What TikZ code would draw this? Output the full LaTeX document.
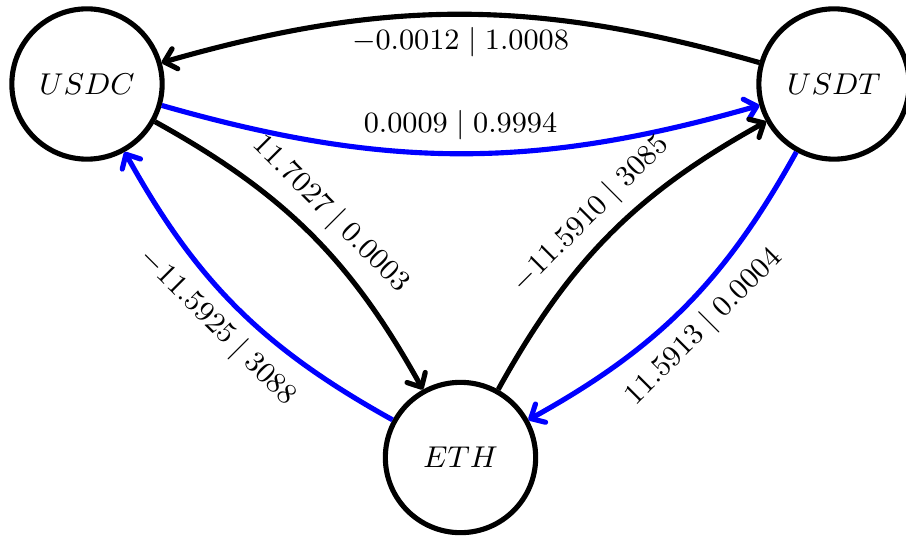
\RequirePackage{fix-cm}
\documentclass[tikz,border=0pt]{standalone}
\usepackage{amsmath,amssymb}
\usetikzlibrary{arrows.meta}
\begin{document}
\begin{tikzpicture}[token/.style={circle,draw,ultra thick,minimum size=1.65cm,font=\fontsize{9.4}{11}\selectfont},
    edge/.style={-{Straight Barb[length=3.5pt,width=6.5pt,round]},ultra thick},
    price/.style={text=black,font=\fontsize{9.2}{11}\selectfont}]
      \useasboundingbox (-0.955,-4.951) rectangle (8.99,0.922);
      \node[token] (usdc) at (0,0) {$USDC$};
      \node[token] (usdt) at (8.2,0) {$USDT$};
      \node[token] (eth) at (4.1,-4.1) {$ETH$};

      % top pair
      \draw[edge] (usdt) to[bend right=16] node[price,below] {$-0.0012 \mid 1.0008$} (usdc);
      \draw[edge,blue] (usdc) to[bend right=16] node[price,above] {$0.0009 \mid 0.9994$} (usdt);
      % left pair
      \draw[edge] (usdc) to[bend left=16] node[price,sloped,above] {$11.7027 \mid 0.0003$} (eth);
      \draw[edge,blue] (eth) to[bend left=16] node[price,sloped,below] {$-11.5925 \mid 3088$} (usdc);
      % right pair
      \draw[edge] (eth) to[bend left=16] node[price,sloped,above] {$-11.5910 \mid 3085$} (usdt);
      \draw[edge,blue] (usdt) to[bend left=16] node[price,sloped,below] {$11.5913 \mid 0.0004$} (eth);
    \end{tikzpicture}
\end{document}
